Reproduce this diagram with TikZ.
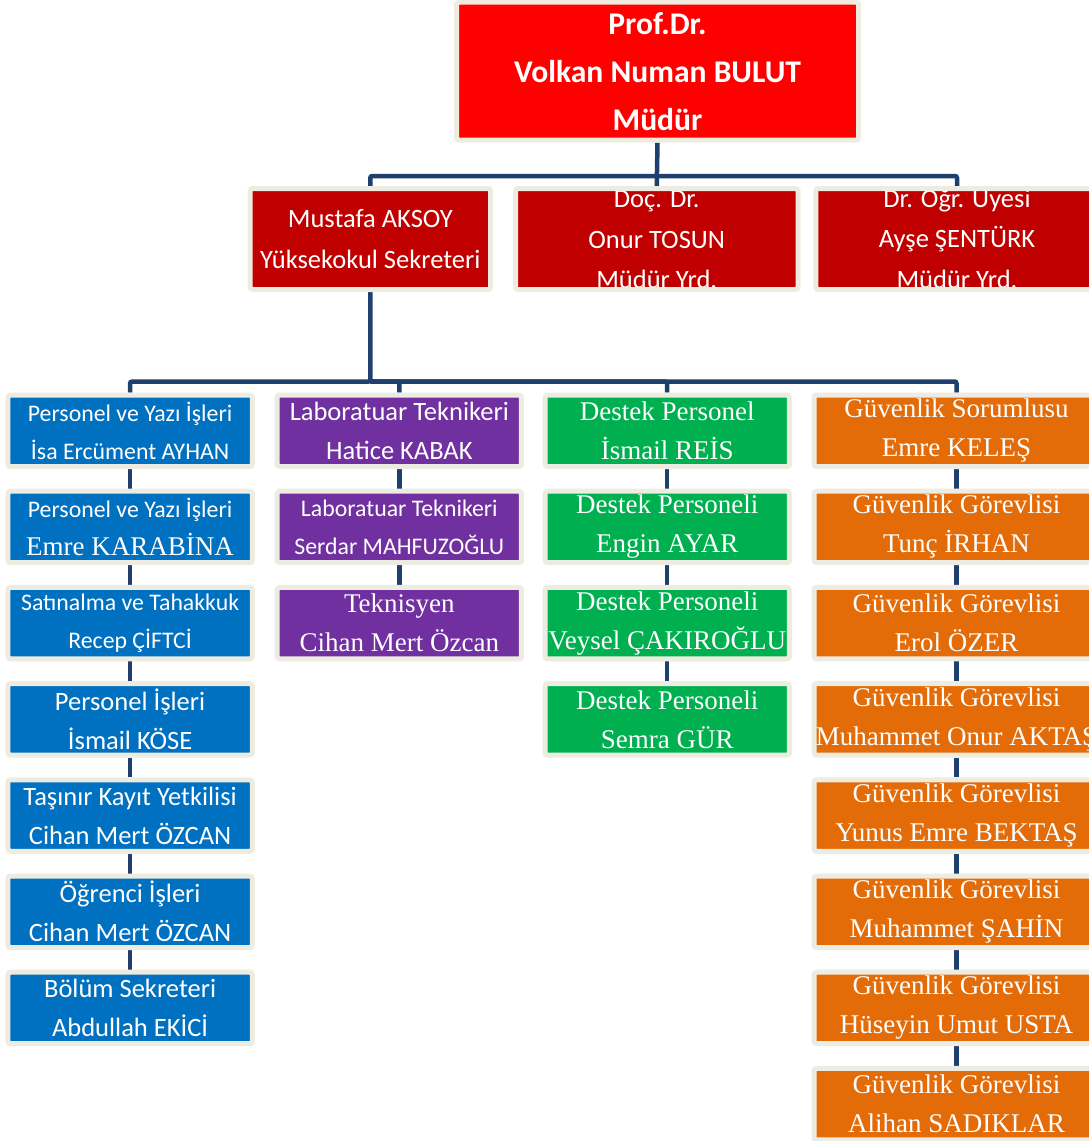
\documentclass[tikz,border=0pt]{standalone}
\usepackage{fontspec}
\setmainfont{Carlito}
\newfontfamily\serifF{Liberation Serif}
\usetikzlibrary{backgrounds}
\definecolor{framec}{HTML}{EEECE1}
\definecolor{navy}{HTML}{1F3F6E}
\definecolor{topred}{HTML}{FF0000}
\definecolor{darkred}{HTML}{C00000}
\definecolor{bluec}{HTML}{0070C0}
\definecolor{purplec}{HTML}{7030A0}
\definecolor{greenc}{HTML}{00B050}
\definecolor{orangec}{HTML}{E36C09}
\newcommand\fsz[2]{\fontsize{#1pt}{#2pt}\selectfont}
\newcommand\tSmall{\fsz{23.8}{38}}
\newcommand\tNorm{\fsz{26.5}{39}}
\newcommand\tSerif{\serifF\fsz{27}{39}}
\tikzset{
  box/.style={draw=framec, line width=5pt, rounded corners=2.5pt, text=white,
    align=center, inner sep=0pt},
  topbox/.style={box, fill=topred, minimum width=402pt, minimum height=138pt,
    font=\bfseries\fsz{31.6}{48}},
  secA/.style={box, fill=darkred, minimum width=240.4pt, minimum height=101pt,
    font=\fsz{26.5}{41}},
  secB/.style 2 args={box, fill=darkred, minimum width=282.5pt, minimum height=101pt,
    path picture={\node[text=white, align=center, inner sep=0pt, font=\fsz{26.5}{40.5}, yshift=#2]
      at (path picture bounding box.center) {#1};}},
  colbox/.style={box, minimum width=244.3pt, minimum height=71.5pt},
  bbox/.style={colbox, fill=bluec},
  pbox/.style={colbox, fill=purplec},
  gbox/.style={colbox, fill=greenc, font=\tSerif},
  obox/.style={box, fill=orangec, minimum width=285pt, minimum height=71.5pt, font=\tSerif},
  conn/.style={draw=navy, line width=4.5pt, rounded corners=2pt}
}
\begin{document}
\begin{tikzpicture}[x=1pt, y=-1pt]
\useasboundingbox (0,0) rectangle (1089,1141);
\clip (0,0) rectangle (1089,1141);

% top
\node[topbox] (top) at (657.5,71.2) {Prof.Dr.\\Volkan Numan BULUT\\Müdür};

% second row
\node[secA] (s1) at (370.3,239) {Mustafa AKSOY\\Yüksekokul Sekreteri};
\node[secB={Doç. Dr.\\Onur TOSUN\\Müdür Yrd.}{-1pt}] (s2) at (656.75,239) {};
\node[secB={Dr. Öğr. Üyesi\\Ayşe ŞENTÜRK\\Müdür Yrd.}{2pt}] (s3) at (957,239) {};

% column 1 (blue)
\node[bbox, font=\tSmall] (a1) at (130.1,430.75) {Personel ve Yazı İşleri\\İsa Ercüment AYHAN};
\node[bbox, font=\tSmall] (a2) at (130.1,526.95) {Personel ve Yazı İşleri\\{\tSerif Emre KARABİNA}};
\node[bbox, font=\tSmall] (a3) at (130.1,623.15) {Satınalma ve Tahakkuk\\Recep ÇİFTCİ};
\node[bbox, font=\tNorm] (a4) at (130.1,719.35) {Personel İşleri\\İsmail KÖSE};
\node[bbox, font=\tNorm] (a5) at (130.1,815.55) {Taşınır Kayıt Yetkilisi\\Cihan Mert ÖZCAN};
\node[bbox, font=\tNorm] (a6) at (130.1,911.75) {Öğrenci İşleri\\Cihan Mert ÖZCAN};
\node[bbox, font=\tNorm] (a7) at (130.1,1007.95) {Bölüm Sekreteri\\Abdullah EKİCİ};

% column 2 (purple)
\node[pbox, font=\tNorm] (b1) at (399.3,430.75) {Laboratuar Teknikeri\\Hatice KABAK};
\node[pbox, font=\tSmall] (b2) at (399.3,526.95) {Laboratuar Teknikeri\\Serdar MAHFUZOĞLU};
\node[pbox, font=\tSerif] (b3) at (399.3,623.15) {Teknisyen\\Cihan Mert Özcan};

% column 3 (green)
\node[gbox] (c1) at (667.2,430.75) {Destek Personel\\İsmail REİS};
\node[gbox] (c2) at (667.2,526.95) {Destek Personeli\\Engin AYAR};
\node[gbox] (c3) at (667.2,623.15) {Destek Personeli\\Veysel ÇAKIROĞLU};
\node[gbox] (c4) at (667.2,719.35) {Destek Personeli\\Semra GÜR};

% column 4 (orange)
\node[obox] (d1) at (956.5,430.75) {Güvenlik Sorumlusu\\Emre KELEŞ};
\node[obox] (d2) at (956.5,526.95) {Güvenlik Görevlisi\\Tunç İRHAN};
\node[obox] (d3) at (956.5,623.15) {Güvenlik Görevlisi\\Erol ÖZER};
\node[obox] (d4) at (956.5,719.35) {Güvenlik Görevlisi\\Muhammet Onur AKTAŞ};
\node[obox] (d5) at (956.5,815.55) {Güvenlik Görevlisi\\Yunus Emre BEKTAŞ};
\node[obox] (d6) at (956.5,911.75) {Güvenlik Görevlisi\\Muhammet ŞAHİN};
\node[obox] (d7) at (956.5,1007.95) {Güvenlik Görevlisi\\Hüseyin Umut USTA};
\node[obox] (d8) at (956.5,1104.15) {Güvenlik Görevlisi\\Alihan SADIKLAR};

\coordinate (bus1) at (657,176);
\coordinate (bus2) at (370.3,381.5);

\begin{scope}[on background layer]
  \draw[conn] (top.south) -- (s2.north);
  \draw[conn] (bus1) -| (s1.north);
  \draw[conn] (bus1) -| (s3.north);
  \draw[conn] (s1.south) -- (bus2) -| (a1.north);
  \draw[conn] (bus2) -| (b1.north);
  \draw[conn] (bus2) -| (c1.north);
  \draw[conn] (bus2) -| (d1.north);
  \foreach \p/\q in {a1/a2,a2/a3,a3/a4,a4/a5,a5/a6,a6/a7,b1/b2,b2/b3,c1/c2,c2/c3,c3/c4,
                     d1/d2,d2/d3,d3/d4,d4/d5,d5/d6,d6/d7,d7/d8}
    \draw[conn] (\p.south) -- (\q.north);
\end{scope}
\end{tikzpicture}
\end{document}
